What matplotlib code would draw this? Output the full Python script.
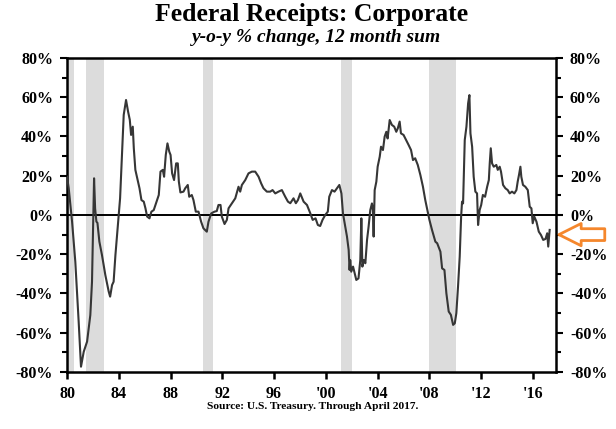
import matplotlib
matplotlib.use("Agg")
import matplotlib.pyplot as plt
from matplotlib.ticker import MultipleLocator

plt.rcParams['font.family'] = ['Liberation Serif', 'DejaVu Serif']

# serie: anio decimal, % a/a
years = [
    1980.00, 1980.13, 1980.39, 1980.64, 1980.90, 1981.08, 1981.29, 1981.55, 1981.80, 1981.93,
    1982.00, 1982.09, 1982.17, 1982.27, 1982.35, 1982.50, 1982.70, 1982.96, 1983.22, 1983.33,
    1983.48, 1983.60, 1983.74, 1983.95, 1984.10, 1984.25, 1984.38, 1984.56, 1984.72, 1984.85,
    1984.95, 1985.08, 1985.16, 1985.28, 1985.37, 1985.60, 1985.75, 1985.93, 1986.06, 1986.19,
    1986.37, 1986.52, 1986.70, 1986.88, 1987.09, 1987.22, 1987.40, 1987.50, 1987.63, 1987.76,
    1987.90, 1988.00, 1988.12, 1988.27, 1988.43, 1988.56, 1988.64, 1988.76, 1989.00, 1989.13,
    1989.33, 1989.44, 1989.64, 1989.77, 1989.95, 1990.16, 1990.36, 1990.54, 1990.80, 1990.93,
    1991.14, 1991.39, 1991.57, 1991.70, 1991.86, 1991.96, 1992.17, 1992.35, 1992.48, 1992.74,
    1993.00, 1993.25, 1993.38, 1993.51, 1993.77, 1994.02, 1994.28, 1994.54, 1994.80, 1995.00,
    1995.18, 1995.44, 1995.70, 1995.88, 1996.09, 1996.34, 1996.60, 1996.86, 1997.07, 1997.25,
    1997.50, 1997.68, 1997.84, 1998.02, 1998.28, 1998.54, 1998.80, 1998.98, 1999.20, 1999.38,
    1999.56, 1999.74, 1999.95, 2000.15, 2000.26, 2000.47, 2000.67, 2000.85, 2001.04, 2001.20,
    2001.32, 2001.50, 2001.63, 2001.76, 2001.83, 2001.88, 2001.96, 2002.10, 2002.35, 2002.52,
    2002.66, 2002.74, 2002.82, 2002.92, 2003.05, 2003.18, 2003.30, 2003.43, 2003.56, 2003.63,
    2003.69, 2003.77, 2003.90, 2004.00, 2004.16, 2004.26, 2004.41, 2004.54, 2004.67, 2004.77,
    2004.93, 2005.10, 2005.28, 2005.44, 2005.56, 2005.70, 2005.80, 2006.00, 2006.20, 2006.39,
    2006.58, 2006.73, 2006.90, 2007.10, 2007.30, 2007.50, 2007.68, 2007.87, 2008.00, 2008.20,
    2008.46, 2008.60, 2008.85, 2008.98, 2009.16, 2009.31, 2009.49, 2009.66, 2009.83, 2009.96,
    2010.08, 2010.21, 2010.34, 2010.45, 2010.52, 2010.60, 2010.73, 2010.86, 2010.99, 2011.09,
    2011.17, 2011.30, 2011.42, 2011.55, 2011.68, 2011.76, 2011.88, 2012.00, 2012.13, 2012.30,
    2012.46, 2012.59, 2012.66, 2012.74, 2012.84, 2012.97, 2013.17, 2013.28, 2013.43, 2013.53,
    2013.69, 2013.87, 2014.05, 2014.20, 2014.38, 2014.56, 2014.72, 2014.82, 2014.92, 2015.03,
    2015.10, 2015.23, 2015.41, 2015.60, 2015.75, 2015.88, 2015.98, 2016.10, 2016.27, 2016.45,
    2016.62, 2016.79, 2016.97, 2017.10, 2017.18, 2017.29,
]
pct = [
    19.5, 13.7, -3.4, -23.8, -54.4, -77.3, -69.7, -64.5, -51.0, -34.0,
    -10.0, 18.7, 3.4, -3.4, -4.0, -13.6, -20.4, -30.6, -39.0, -41.6,
    -35.7, -34.0, -20.4, -3.4, 8.5, 30.6, 51.0, 58.6, 52.6, 48.5,
    40.8, 45.0, 34.0, 23.0, 20.4, 13.6, 7.6, 6.8, 3.4, -0.8,
    -1.7, 1.7, 2.5, 6.0, 10.2, 22.1, 23.0, 19.5, 30.6, 36.5,
    32.3, 30.6, 21.2, 17.8, 26.3, 26.3, 17.0, 11.5, 11.9, 13.6,
    15.3, 9.3, 10.2, 7.6, 1.7, 1.7, -3.4, -6.8, -8.5, -3.4,
    0.8, 1.7, 2.0, 5.1, 5.1, -0.8, -4.6, -2.5, 3.4, 6.0,
    8.5, 14.4, 11.9, 15.3, 17.8, 21.2, 22.1, 22.1, 19.5, 16.1,
    13.6, 11.9, 11.9, 12.7, 11.0, 11.9, 12.7, 9.3, 6.8, 6.0,
    8.5, 6.0, 7.6, 11.0, 6.8, 5.1, 0.8, -2.5, -1.7, -5.1,
    -5.6, -2.5, 0.0, 1.7, 9.3, 12.7, 11.9, 13.6, 15.3, 11.0,
    0.8, -6.0, -11.0, -17.8, -28.0, -23.0, -28.9, -26.3, -33.1, -32.3,
    -22.9, -1.7, -26.3, -22.9, -24.6, -12.7, -6.0, 2.5, 5.9, 2.5,
    -11.0, 12.7, 17.0, 24.6, 29.7, 34.8, 33.1, 39.9, 42.4, 39.0,
    48.4, 45.9, 45.0, 42.4, 44.2, 47.6, 41.6, 40.8, 38.2, 35.7,
    33.1, 28.0, 28.9, 25.5, 20.4, 14.4, 7.6, 1.7, -2.5, -7.6,
    -13.6, -14.4, -18.7, -27.2, -28.0, -39.9, -49.2, -50.9, -56.0, -55.2,
    -50.0, -36.5, -21.2, -0.8, 6.8, 5.9, 38.2, 45.0, 56.9, 61.1,
    41.6, 34.8, 19.5, 11.9, 11.0, -5.1, 2.5, 5.1, 10.2, 9.3,
    14.4, 17.8, 26.3, 34.0, 26.3, 24.6, 25.5, 23.0, 24.6, 22.1,
    15.3, 13.6, 12.7, 11.0, 11.9, 11.0, 12.7, 17.0, 20.4, 24.6,
    19.5, 15.3, 14.4, 12.7, 4.2, 3.4, -4.2, -0.8, -3.4, -8.5,
    -10.2, -12.7, -12.2, -9.3, -16.1, -7.6,
]

# recesiones (inicio, fin)
recessions = [(1980.0, 1980.55), (1981.47, 1982.87), (1990.5, 1991.3),
              (2001.2, 2002.0), (2007.95, 2010.05)]

xticks = [1980, 1984, 1988, 1992, 1996, 2000, 2004, 2008, 2012, 2016]
xlabels = ["80", "84", "88", "92", "96", "'00", "'04", "'08", "'12", "'16"]
yticks = list(range(-80, 81, 20))
last_marker = -10

fig = plt.figure(figsize=(6.16, 4.29), dpi=100)
ax = fig.add_axes([0.1088, 0.1329, 0.7938, 0.7319])

for start, end in recessions:
    ax.axvspan(start, end, color='#dcdcdc', lw=0, zorder=0)

ax.axhline(0, color='black', lw=1.4, zorder=2)
ax.plot(years, pct, color='#363636', lw=1.5, zorder=3)

ax.set_xlim(1980, 2017.78)
ax.set_ylim(-80, 80)
ax.set_xticks(xticks)
ax.set_xticklabels(xlabels)
ax.set_yticks(yticks)
ax.set_yticklabels([f"{v}%" for v in yticks])
ax.yaxis.set_minor_locator(MultipleLocator(10))

for s in ax.spines.values():
    s.set_linewidth(1.8)
ax.tick_params(axis='x', direction='out', length=5, width=1.8, pad=5,
               labelsize=11.5)
ax.tick_params(axis='y', which='both', direction='out', left=True, right=True,
               labelleft=True, labelright=True, width=1.5)
ax.tick_params(axis='y', which='major', length=5, pad=5, labelsize=11.5)
ax.tick_params(axis='y', which='minor', length=3.5)
for lab in ax.get_xticklabels() + ax.get_yticklabels():
    lab.set_fontweight('bold')
for t in ax.yaxis.get_major_ticks():
    t.label2.set_fontweight('bold')

# flecha naranja en el eje derecho
ax.annotate('', xy=(1.006, last_marker), xycoords=('axes fraction', 'data'),
            xytext=(33, 0), textcoords='offset points', annotation_clip=False,
            arrowprops=dict(arrowstyle='simple,head_length=1.6,head_width=1.6,tail_width=0.85',
                            fc='white', ec='#f5872c', lw=2, shrinkA=0, shrinkB=0,
                            mutation_scale=10))

fig.text(0.505, 0.966, "Federal Receipts: Corporate", ha='center', va='center',
         fontsize=18.5, fontweight='bold')
fig.text(0.514, 0.912, "y-o-y % change, 12 month sum", ha='center', va='center',
         fontsize=14, fontweight='bold', style='italic')
fig.text(0.507, 0.053, "Source: U.S. Treasury. Through April 2017.", ha='center',
         va='center', fontsize=8.2, fontweight='bold')

fig.savefig("out.png", dpi=100)
